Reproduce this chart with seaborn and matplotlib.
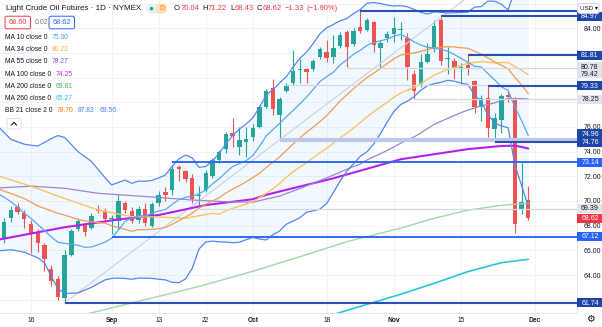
import numpy as np
import pandas as pd
import matplotlib
matplotlib.use("Agg")
import matplotlib.pyplot as plt
import matplotlib.transforms as mtransforms
from matplotlib.patches import FancyBboxPatch, Rectangle, Circle
from matplotlib.lines import Line2D
import seaborn as sns

# ---------------- daily sessions (Labor Day and Thanksgiving closed) ----------------
sessions = pd.bdate_range("2021-08-09", "2021-11-30")
sessions = sessions[~sessions.isin(pd.to_datetime(["2021-09-06", "2021-11-25"]))]

opens = [68.20, 66.90, 68.60, 69.55, 69.00, 68.15, 67.50, 66.40, 64.50, 63.70,
         62.10, 65.60, 67.70, 68.05, 67.80, 69.35, 69.20, 68.55, 68.40, 69.85,
         69.15, 68.45, 69.35, 68.00, 69.85, 70.70, 70.85, 72.75, 72.40, 71.85,
         70.40, 70.90, 72.05, 73.35, 74.20, 75.55, 74.40, 74.80, 75.20, 75.98,
         77.65, 79.15, 77.00, 78.95, 79.60, 80.60, 80.70, 80.70, 81.65, 82.10,
         81.70, 82.60, 83.70, 82.75, 84.10, 83.85, 84.50, 82.40, 83.20, 83.55,
         83.85, 83.20, 80.30, 79.50, 81.25, 82.30, 84.65, 81.50, 81.35, 80.75,
         81.00, 79.75, 77.60, 78.37, 75.80, 76.60, 78.55, 78.30, 69.30, 70.04]
highs = [68.40, 68.60, 69.60, 69.85, 69.30, 68.45, 67.70, 66.60, 64.85, 63.90,
         66.05, 67.70, 68.60, 68.25, 69.00, 69.70, 69.45, 68.90, 70.60, 70.00,
         69.55, 69.60, 69.80, 69.90, 70.80, 71.10, 72.80, 72.95, 72.50, 72.20,
         71.20, 72.50, 73.45, 74.10, 75.60, 76.70, 76.00, 76.00, 76.20, 77.80,
         79.10, 79.85, 78.45, 79.60, 82.20, 81.50, 80.80, 81.50, 82.45, 83.05,
         83.45, 83.70, 83.85, 84.00, 85.41, 84.80, 84.55, 83.05, 83.80, 84.95,
         84.50, 83.60, 80.60, 81.95, 82.80, 84.70, 84.97, 82.45, 81.55, 81.15,
         81.81, 79.80, 78.60, 79.33, 77.10, 78.70, 79.00, 78.40, 73.05, 71.22]
lows = [65.90, 66.60, 68.30, 68.95, 67.80, 65.80, 65.90, 64.30, 63.10, 61.95,
        61.74, 65.50, 67.60, 67.20, 67.70, 69.00, 68.35, 67.30, 67.70, 69.00,
        68.20, 68.20, 68.00, 67.90, 69.60, 70.00, 70.50, 71.65, 71.50, 69.85,
        69.55, 70.70, 71.90, 73.10, 73.90, 74.40, 73.75, 73.60, 74.90, 75.90,
        77.50, 76.95, 74.96, 78.80, 79.40, 79.60, 79.55, 80.50, 81.50, 81.30,
        81.15, 82.40, 80.89, 82.60, 83.60, 83.75, 82.10, 80.75, 82.90, 82.90,
        83.05, 79.80, 78.25, 79.20, 81.15, 82.10, 81.00, 80.30, 79.85, 79.50,
        80.20, 77.10, 76.50, 75.20, 74.76, 75.50, 78.00, 67.40, 68.95, 68.43]
closes = [66.50, 68.30, 69.25, 69.10, 68.50, 67.30, 66.60, 65.30, 63.50, 62.20,
          65.64, 67.55, 68.40, 67.45, 68.75, 69.20, 68.50, 68.65, 70.00, 69.30,
          68.40, 69.35, 68.20, 69.75, 70.45, 70.46, 72.61, 72.61, 71.82, 70.15,
          70.49, 72.23, 73.30, 73.98, 75.45, 75.29, 74.95, 75.03, 75.88, 77.62,
          78.93, 77.43, 78.30, 79.35, 80.52, 80.64, 80.44, 81.31, 82.28, 81.62,
          82.42, 83.42, 82.50, 83.76, 83.76, 84.65, 82.66, 82.78, 83.57, 84.05,
          83.91, 80.86, 78.90, 81.27, 81.88, 84.15, 81.34, 81.59, 80.79, 80.88,
          80.76, 77.60, 78.36, 75.94, 76.75, 78.50, 78.39, 68.15, 69.95, 68.62]

# indicator values before each rolling window has filled
ma10_lead_dates = ["2021-08-09", "2021-08-10", "2021-08-11", "2021-08-12", "2021-08-13",
                   "2021-08-16", "2021-08-17", "2021-08-18", "2021-08-19"]
ma10_lead = [70.60, 70.30, 69.95, 69.50, 69.00, 68.60, 68.10, 67.60, 67.10]

bb_lead_dates = ["2021-08-09", "2021-08-11", "2021-08-13", "2021-08-17", "2021-08-18",
                 "2021-08-19", "2021-08-20", "2021-08-23", "2021-08-25", "2021-08-27",
                 "2021-08-31", "2021-09-01", "2021-09-02", "2021-09-03"]
bb_upper_lead = [76.10, 75.00, 74.60, 74.45, 74.75, 75.05, 75.30, 75.15, 74.00, 73.20,
                 71.90, 71.30, 71.50, 71.70]
bb_lower_lead = [65.95, 66.05, 65.85, 65.40, 65.00, 63.90, 62.90, 62.50, 62.55, 63.00,
                 63.60, 63.72, 63.75, 63.72]
bb_mid_lead = [71.00, 70.60, 70.20, 69.60, 69.40, 69.20, 69.00, 68.86, 68.50, 68.30,
               68.20, 68.00, 67.85, 67.70]

ma34_lead_dates = ["2021-08-09", "2021-08-16", "2021-08-23", "2021-08-30", "2021-09-07",
                   "2021-09-13", "2021-09-17", "2021-09-22", "2021-09-23"]
ma34_lead = [72.05, 71.20, 70.20, 69.27, 68.73, 68.70, 68.60, 68.90, 69.00]

ma55_lead_dates = ["2021-08-09", "2021-08-16", "2021-08-23", "2021-08-30", "2021-09-08",
                   "2021-09-20", "2021-09-27", "2021-10-01", "2021-10-07", "2021-10-12",
                   "2021-10-19", "2021-10-22"]
ma55_lead = [71.05, 71.20, 71.03, 70.62, 70.40, 70.08, 69.94, 69.90, 70.40, 71.00, 72.10, 72.80]

ma100_dates = ["2021-08-09", "2021-08-23", "2021-09-02", "2021-09-13", "2021-09-22",
               "2021-10-01", "2021-10-05", "2021-10-19", "2021-11-02", "2021-11-09",
               "2021-11-16", "2021-11-23", "2021-11-26", "2021-11-29", "2021-11-30"]
ma100_vals = [66.85, 67.87, 68.50, 68.86, 69.67, 70.14, 70.50, 71.84, 73.38, 73.79,
              74.20, 74.46, 74.48, 74.38, 74.25]

ma200_dates = ["2021-08-26", "2021-09-21", "2021-10-01", "2021-10-12", "2021-10-21",
               "2021-11-02", "2021-11-09", "2021-11-16", "2021-11-23", "2021-11-30"]
ma200_vals = [60.80, 63.07, 64.30, 65.48, 66.70, 67.80, 68.60, 69.25, 69.65, 69.81]

ma260_dates = ["2021-10-19", "2021-11-02", "2021-11-09", "2021-11-16", "2021-11-23", "2021-11-30"]
ma260_vals = [60.80, 62.44, 63.33, 64.27, 65.00, 65.27]

# drawn support / resistance levels
level_values = [85.41, 84.97, 81.81, 80.78, 79.42, 79.33, 78.25, 74.96, 74.76, 73.14, 69.39, 67.12, 61.74]
level_starts = ["2021-10-25", "2021-11-10", "2021-11-16", "2021-10-21", "2021-10-08", "2021-11-19",
                "2021-11-04", "2021-10-07", "2021-11-22", "2021-09-15", "2021-09-21", "2021-09-01",
                "2021-08-23"]
level_kinds = ["navy", "navy", "navy", "gray", "gray", "navy", "gray", "band", "navy", "blue",
               "gray", "blue", "navy"]
level_tagged = [False, True, True, True, True, True, True, True, True, True, True, True, True]

trend_dates = ["2021-08-23", "2021-10-07"]
trend_vals = [61.74, 74.96]

tick_dates = ["2021-08-16", "2021-09-01", "2021-09-13", "2021-09-22", "2021-10-01",
              "2021-10-18", "2021-11-01", "2021-11-15", "2021-12-01"]
tick_labels = ["16", "Sep", "13", "22", "Oct", "18", "Nov", "15", "Dec"]
month_labels = {"Sep", "Oct", "Nov", "Dec"}
price_ticks = np.arange(62, 87, 2)

# ---------------- styling ----------------
sns.set_theme(style="white")
plt.rcParams["font.family"] = ["Liberation Sans", "DejaVu Sans"]

TXT = "#131722"
RED = "#f23645"
UP_C, DOWN_C = "#26a69a", "#ef5350"
NAVY_LINE, NAVY_TAG = "#2a4fb5", "#1f45a8"
BLUE = "#2962ff"

W, H = 602, 327
fig = plt.figure(figsize=(W / 100, H / 100), dpi=100)
fig.patch.set_facecolor("white")
ax = fig.add_axes([0, (H - 313) / H, 577 / W, 313 / H])
ax.set_facecolor("white")
pix = mtransforms.Affine2D().scale(1, -1).translate(0, H)

X_LO, X_HI = 0.387, 86.25
Y_LO, Y_HI = 60.92, 86.29
ax.set_xlim(X_LO, X_HI)
ax.set_ylim(Y_LO, Y_HI)
px_per_unit = 313 / (Y_HI - Y_LO)

pos = np.arange(len(sessions))


def at(dates):
    return sessions.searchsorted(pd.to_datetime(dates))


o, h, l, c = (np.asarray(a, dtype=float) for a in (opens, highs, lows, closes))
close_s = pd.Series(c, index=sessions)


def joined(lead_dates, lead_vals, computed):
    computed = np.asarray(computed, dtype=float)
    valid = np.where(~np.isnan(computed))[0]
    xs = np.concatenate([at(lead_dates), valid])
    ys = np.concatenate([np.asarray(lead_vals, dtype=float), computed[valid]])
    return xs, ys


ma10_x, ma10_y = joined(ma10_lead_dates, ma10_lead, close_s.rolling(10).mean())
ma34_x, ma34_y = joined(ma34_lead_dates, ma34_lead, close_s.rolling(34).mean())
ma55_x, ma55_y = joined(ma55_lead_dates, ma55_lead, close_s.rolling(55).mean())
mid = close_s.rolling(21).mean()
sd = close_s.rolling(21).std(ddof=0)
bb_x, bb_mid = joined(bb_lead_dates, bb_mid_lead, mid)
_, bb_up = joined(bb_lead_dates, bb_upper_lead, mid + 2 * sd)
_, bb_lo = joined(bb_lead_dates, bb_lower_lead, mid - 2 * sd)

# price tags on the right scale (value, text, background, text colour, vertical nudge in px)
tag_style = {"navy": (NAVY_TAG, "white"), "blue": (BLUE, "white"),
             "gray": ("#e0e3eb", TXT), "band": (NAVY_TAG, "white")}
tag_nudge = {80.78: 1.2, 79.42: 11.0, 74.96: 6.0}
tags = []
for v, k, tagged in zip(level_values, level_kinds, level_tagged):
    if tagged:
        bg, fg = tag_style[k]
        tags.append((v, f"{v:.2f}", bg, fg, tag_nudge.get(v, 0.0)))
tags.append((c[-1], f"{c[-1]:.2f}", RED, "white", 0.0))
tag_centres = [v + n / px_per_unit for v, _, _, _, n in tags] + [Y_HI - 8.7 / px_per_unit]

# grid and ticks; scale labels hidden where a tag sits on top of them
ax.set_yticks(price_ticks)
ax.set_yticklabels([
    "" if min(abs(t - y) for y in tag_centres) * px_per_unit < 6 else f"{t:.2f}"
    for t in price_ticks])
ax.set_xticks(at(tick_dates))
ax.set_xticklabels(tick_labels)
ax.grid(True, color="#f0f3fa", lw=0.7)
ax.set_axisbelow(True)

# Bollinger band fill
ax.fill_between(bb_x, bb_lo, bb_up, color="#2196f3", alpha=0.055, lw=0, zorder=1)

# candles
colors = np.where(c >= o, UP_C, DOWN_C)
ax.vlines(pos, l, h, colors=colors, lw=0.8, zorder=2)
ax.bar(pos, np.maximum(np.abs(c - o), 0.06), bottom=np.minimum(o, c), width=0.66,
       color=colors, lw=0, zorder=2.1)

# trend line from the August low
p0, p1 = at(trend_dates)
slope = (trend_vals[1] - trend_vals[0]) / (p1 - p0)
ax.plot([p0, X_HI], [trend_vals[0], trend_vals[0] + slope * (X_HI - p0)],
        color="#d1d4dc", lw=0.9, zorder=2.5)

# indicator lines
line_specs = [
    (at(ma260_dates), ma260_vals, "#2cc5da", 1.2),
    (at(ma200_dates), ma200_vals, "#a5d6a7", 1.0),
    (at(ma100_dates), ma100_vals, "#b620ee", 1.5),
    (ma55_x, ma55_y, "#9d84d6", 0.9),
    (ma34_x, ma34_y, "#fbc368", 1.0),
    (bb_x, bb_mid, "#f79a52", 0.9),
    (bb_x, bb_up, "#5686f2", 0.9),
    (bb_x, bb_lo, "#5686f2", 0.9),
    (ma10_x, ma10_y, "#5aa7f2", 0.9),
]
for xs, ys, col, lw in line_specs:
    sns.lineplot(x=np.asarray(xs, dtype=float), y=np.asarray(ys, dtype=float), ax=ax,
                 color=col, linewidth=lw, sort=False, estimator=None, zorder=3)

# horizontal levels
line_style = {"navy": (NAVY_LINE, 1.5), "blue": ("#2f6af5", 1.4),
              "gray": ("#d6d8df", 0.9), "band": ("#bcc7ec", 3.0)}
for v, s, k in zip(level_values, level_starts, level_kinds):
    col, lw = line_style[k]
    ax.hlines(v, at([s])[0], X_HI, colors=col, lw=lw, zorder=4)

blend = mtransforms.blended_transform_factory(ax.transAxes, ax.transData)
tag_w, tag_h = 25 / 577, 9 / px_per_unit
for v, text, bg, fg, nudge in tags:
    y = v + nudge / px_per_unit
    ax.add_patch(Rectangle((1.0008, y - tag_h / 2), tag_w, tag_h, transform=blend,
                           fc=bg, ec="none", clip_on=False, zorder=20))
    ax.text(1.0008 + tag_w / 2, y - 0.03, text, transform=blend, ha="center", va="center",
            fontsize=5.0, color=fg, clip_on=False, zorder=21)

ax.yaxis.tick_right()
ax.tick_params(axis="y", length=0, pad=4.5, labelsize=5.0, labelcolor=TXT)
ax.tick_params(axis="x", length=0, pad=2.6, labelsize=4.8, labelcolor=TXT)
for lbl in ax.get_xticklabels():
    if lbl.get_text() in month_labels:
        lbl.set_fontweight("bold")
for side in ("top", "left"):
    ax.spines[side].set_visible(False)
for side in ("right", "bottom"):
    ax.spines[side].set_color("#e0e3eb")
    ax.spines[side].set_linewidth(0.6)
ax.set_xlabel("")
ax.set_ylabel("")

# currency selector on the price scale
fig.add_artist(FancyBboxPatch((578, 3.5), 21, 10, boxstyle="round,pad=0,rounding_size=1.5",
                              transform=pix, fc="white", ec="#c9ccd6", lw=0.6, zorder=30))
fig.text(588.5, 8.7, "USD ▾", transform=pix, fontsize=4.5, color=TXT, ha="center", va="center",
         zorder=31)

# ---------------- header legend ----------------
renderer = fig.canvas.get_renderer()


def text_run(x, y, parts, size):
    for s, col, gap in parts:
        t = fig.text(x, y, s, transform=pix, fontsize=size, color=col, ha="left", va="center")
        x += t.get_window_extent(renderer).width + gap
    return x


fig.text(6, 9, "Light Crude Oil Futures · 1D · NYMEX", transform=pix, fontsize=5.8,
         color=TXT, ha="left", va="center")
fig.add_artist(FancyBboxPatch((146, 3.8), 21, 9.6, boxstyle="round,pad=0,rounding_size=4.8",
                              transform=pix, fc="#e6f2f0", ec="none"))
fig.add_artist(FancyBboxPatch((156.5, 3.8), 10.5, 9.6, boxstyle="round,pad=0,rounding_size=4.8",
                              transform=pix, fc="#ffe0b2", ec="none"))
fig.add_artist(Rectangle((156.5, 3.8), 4, 9.6, transform=pix, fc="#ffe0b2", ec="none"))
fig.add_artist(Circle((151.5, 8.6), 1.8, transform=pix, fc=UP_C, ec="none"))
fig.text(162, 8.8, "D", transform=pix, fontsize=5.0, color="#f57c00", ha="center", va="center")

prev_close = c[-2]
chg = c[-1] - prev_close
text_run(174, 9, [("O", TXT, 0.3), (f"{o[-1]:.2f}", RED, 3.0),
                  ("H", TXT, 0.3), (f"{h[-1]:.2f}", RED, 3.0),
                  ("L", TXT, 0.3), (f"{l[-1]:.2f}", RED, 3.0),
                  ("C", TXT, 0.3), (f"{c[-1]:.2f}", RED, 3.0),
                  (f"{chg:+.2f}".replace("-", "−"), RED, 2.5),
                  (f"({chg / prev_close * 100:+.2f}%)".replace("-", "−"), RED, 0)], 5.5)

for x0, txt, col in ((5, "68.60", RED), (49, "68.62", BLUE)):
    fig.add_artist(FancyBboxPatch((x0, 16.2), 25.5, 12.6, boxstyle="round,pad=0,rounding_size=2",
                                  transform=pix, fc="white", ec=col, lw=0.7))
    fig.text(x0 + 12.75, 22.6, txt, transform=pix, fontsize=5.2, color=col, ha="center", va="center")
fig.text(35, 22.6, "0.02", transform=pix, fontsize=5.0, color="#787b86", ha="left", va="center")

legend_rows = [
    ("MA 10 close 0", [(f"{ma10_y[-1]:.2f}", "#42a5f5")]),
    ("MA 34 close 0", [(f"{ma34_y[-1]:.2f}", "#f5ae3d")]),
    ("MA 55 close 0", [(f"{ma55_y[-1]:.2f}", "#7e57c2")]),
    ("MA 100 close 0", [(f"{ma100_vals[-1]:.2f}", "#c026e6")]),
    ("MA 200 close 0", [(f"{ma200_vals[-1]:.2f}", "#4caf50")]),
    ("MA 260 close 0", [(f"{ma260_vals[-1]:.2f}", "#26c6da")]),
    ("BB 21 close 2 0", [(f"{bb_mid[-1]:.2f}", "#f57c00"), (f"{bb_up[-1]:.2f}", "#4a7ef5"),
                         (f"{bb_lo[-1]:.2f}", "#4a7ef5")]),
]
for i, (name, vals) in enumerate(legend_rows):
    parts = [(name, TXT, 4.5)] + [(v, col, 4.5) for v, col in vals]
    text_run(5, 37.6 + i * 12.15, parts, 4.9)

fig.add_artist(FancyBboxPatch((7, 118.5), 14, 10.5, boxstyle="round,pad=0,rounding_size=1.5",
                              transform=pix, fc="white", ec="#e0e3eb", lw=0.7))
fig.add_artist(Line2D([11.5, 14, 16.5], [125, 122.3, 125], transform=pix, color=TXT, lw=0.8))

fig.text(590, 319.5, "⚙", transform=pix, fontsize=7, color=TXT, ha="center", va="center",
         family="DejaVu Sans")

fig.savefig("out.png", dpi=100, facecolor="white")
